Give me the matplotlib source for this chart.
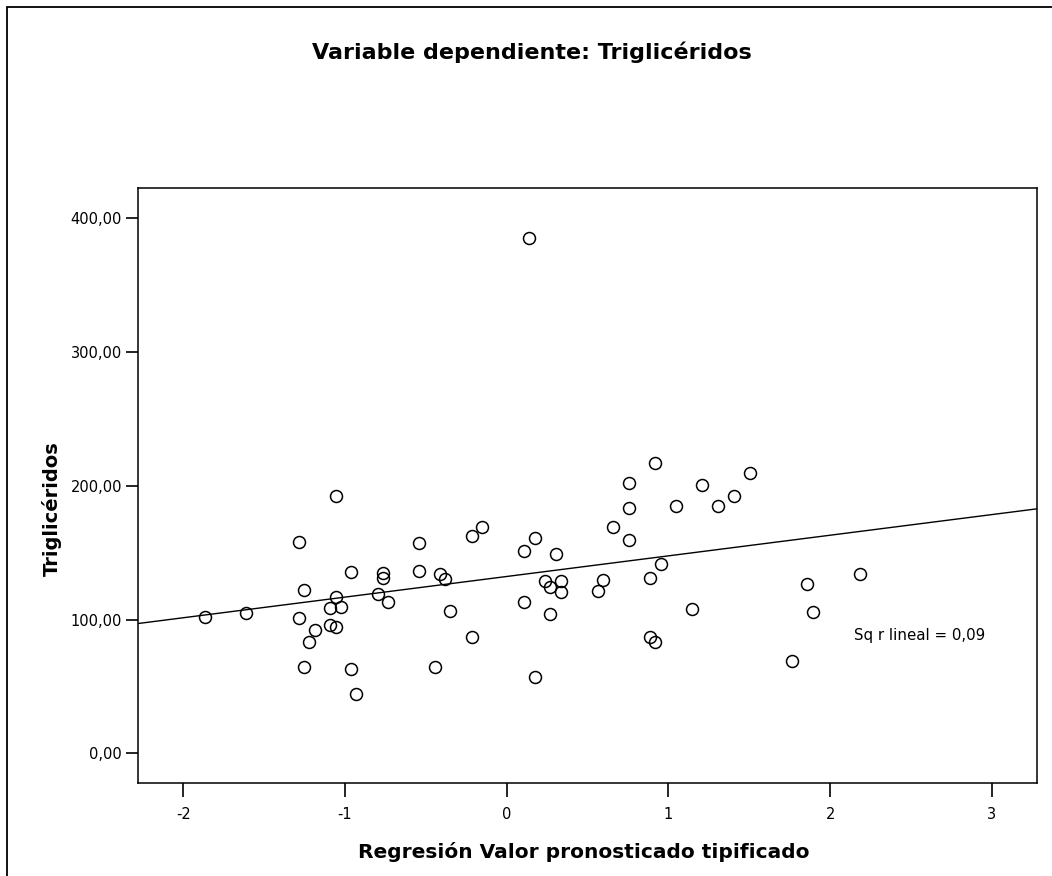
import matplotlib
matplotlib.use('Agg', force=True)
import matplotlib.pyplot as plt
import numpy as np
from matplotlib.patches import Rectangle

plt.rcParams['font.family'] = ['DejaVu Sans']

# standardized predicted value (x) vs triglycerides (y)
pred_z = [-1.867, -1.61, -1.285, -1.285, -1.254, -1.254, -1.221, -1.187, -1.091, -1.091,
          -1.058, -1.058, -1.058, -1.027, -0.961, -0.961, -0.93, -0.798, -0.765, -0.765,
          -0.734, -0.54, -0.54, -0.443, -0.412, -0.38, -0.35, -0.215, -0.215, -0.151,
          0.109, 0.109, 0.173, 0.173, 0.14, 0.239, 0.27, 0.27, 0.303, 0.336,
          0.336, 0.563, 0.596, 0.659, 0.756, 0.756, 0.756, 0.886, 0.886, 0.919,
          0.919, 0.952, 1.049, 1.146, 1.21, 1.307, 1.404, 1.503, 1.762, 1.859,
          1.892, 2.185]
trig = [101.9, 105.1, 157.9, 100.9, 121.8, 64.5, 83.4, 92.2, 108.4, 96.1,
        192.0, 116.8, 94.6, 109.3, 135.7, 63.0, 44.3, 118.8, 135.0, 131.0,
        113.1, 157.2, 136.0, 64.5, 134.0, 130.0, 106.6, 162.6, 86.7, 169.1,
        151.0, 113.1, 161.2, 57.3, 385.3, 129.0, 124.3, 103.9, 149.0, 128.5,
        120.8, 121.1, 129.3, 169.4, 201.8, 183.3, 159.4, 130.8, 86.7, 217.2,
        83.2, 141.2, 184.8, 107.8, 200.3, 184.8, 192.3, 209.3, 69.2, 126.3,
        105.8, 134.2]

x_ticks = [-2, -1, 0, 1, 2, 3]
y_ticks = [0, 100, 200, 300, 400]
y_tick_labels = ['0,00', '100,00', '200,00', '300,00', '400,00']

W, H = 1052, 876
fig = plt.figure(figsize=(W / 100, H / 100), dpi=100)
fig.patches.append(Rectangle((7 / W, -0.02), 1.05, (H - 7) / H + 0.02, transform=fig.transFigure,
                             fill=False, edgecolor='black', linewidth=1.3))

ax = fig.add_axes([138 / W, (H - 783) / H, (1036.5 - 138) / W, (783 - 188) / H])
ax.set_xlim(-2.280, 3.276)
ax.set_ylim(-22.2, 422.6)

ax.plot(pred_z, trig, linestyle='none', marker='o', markersize=8.6, markerfacecolor='none',
        markeredgecolor='black', markeredgewidth=1.1)

# least-squares fit line across the whole axis
slope, intercept = np.polyfit(pred_z, trig, 1)
xx = np.array(ax.get_xlim())
ax.plot(xx, intercept + slope * xx, color='black', linewidth=1.0)

ax.text(2.148, 88.4, 'Sq r lineal = 0,09', fontsize=10.8, va='center', ha='left')

ax.set_xticks(x_ticks)
ax.set_xticklabels([str(t) for t in x_ticks])
ax.set_yticks(y_ticks)
ax.set_yticklabels(y_tick_labels)
ax.tick_params(axis='x', direction='out', length=10, width=1.2, labelsize=10.5, pad=7)
ax.tick_params(axis='y', direction='out', length=8.5, width=1.2, labelsize=10.5, pad=3)
for s in ax.spines.values():
    s.set_linewidth(1.1)

fig.text(584 / W, 1 - 852 / H, 'Regresión Valor pronosticado tipificado', fontsize=14.5,
         fontweight='bold', ha='center', va='center')
fig.text(52 / W, 1 - 509 / H, 'Triglicéridos', fontsize=14, fontweight='bold',
         rotation=90, ha='center', va='center')
fig.text(532 / W, 1 - 52 / H, 'Variable dependiente: Triglicéridos', fontsize=16,
         fontweight='bold', ha='center', va='center')

fig.savefig('out.png', dpi=100)
plt.close(fig)
